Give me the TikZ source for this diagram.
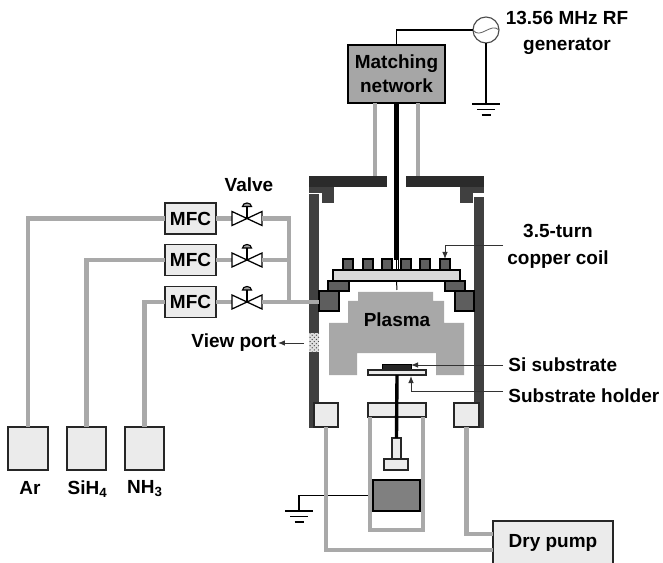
\documentclass[tikz,border=0pt]{standalone}
\usepackage{fontspec}
\setmainfont{Liberation Sans}
\usepackage{tikz}
\usetikzlibrary{patterns, arrows.meta}

\definecolor{pipegray}{HTML}{A9A9A9}
\definecolor{lidgray}{HTML}{2B2B2B}
\definecolor{wallgray}{HTML}{404040}
\definecolor{partgray}{HTML}{5E5E5E}
\definecolor{boxgray}{HTML}{EBEBEB}

\tikzset{
    every node/.style={font=\fontsize{13.5}{17}\selectfont\bfseries, inner sep=1pt, outer sep=0pt},
    size/.style 2 args={minimum width=#1*0.025cm, minimum height=#2*0.025cm},
    lightbox/.style={draw=black!85, line width=1pt, fill=boxgray, inner sep=0pt},
    darkpart/.style={draw=black, line width=0.9pt, fill=partgray, inner sep=0pt},
    pipe/.style={draw=pipegray, line width=3.4pt},
    wire/.style={draw=black, line width=1.4pt},
    callout/.style={draw=black!80, line width=0.7pt, -{Latex[length=5pt, width=4pt]}},
    ground/.pic={
        \draw[line width=1.2pt] (-14,0) -- (14,0);
        \draw[line width=1.2pt] (-9,5.5) -- (9,5.5);
        \draw[line width=1.5pt] (-4.5,11) -- (4.5,11);
    },
    valveicon/.pic={
        \draw[line width=0.9pt, fill=white] (-15,-7) -- (15,7) -- (15,-7) -- (-15,7) -- cycle;
        \draw[line width=0.9pt] (0,0) -- (0,-12);
        \filldraw[line width=0.8pt, fill=black!35] (-4.5,-12) arc[start angle=180, end angle=360, x radius=4.5, y radius=3.5] -- cycle;
    }
}

\begin{document}
\begin{tikzpicture}[x=0.025cm, y=-0.025cm]
        \useasboundingbox (0,0) rectangle (663,563);
        \clip (0,0) rectangle (663,563);

        \fill[white] (0,0) rectangle (663,563);

        % chamber
        \fill[lidgray] (309,176) rectangle (387,187);
        \fill[lidgray] (406,176) rectangle (484,187);
        \fill[wallgray] (309,187) rectangle (322,193);
        \fill[wallgray] (473,187) rectangle (484,193);
        \fill[wallgray] (322,187) rectangle (334,203);
        \fill[wallgray] (460,187) rectangle (473,203);
        \fill[wallgray] (309,194) rectangle (319,428);
        \fill[wallgray] (474,197) rectangle (484,428);
        \fill[black!12] (309,333) rectangle (319,352);
        \fill[pattern=crosshatch dots, pattern color=black!70] (309,333) rectangle (319,352);

        \fill[black!34] (358,292) -- (433,292) -- (433,301) -- (444,301) -- (444,323) -- (464,323)
            -- (464,375) -- (436,375) -- (436,353) -- (357,353) -- (357,375) -- (329,375)
            -- (329,323) -- (348,323) -- (348,301) -- (358,301) -- cycle;
        \node (plasma) at (397,320) {Plasma};

        % coil and window
        \node[draw=black, line width=0.9pt, fill=black!15, size={127}{11}, inner sep=0pt] (window) at (396.5,275.5) {};
        \foreach \i/\x in {1/348,2/368,3/387,4/406,5/425,6/445}
            \node[darkpart, size={10}{11}] (coil\i) at (\x,264.5) {};
        \node[darkpart, size={21}{10}] (ringl) at (338.5,286) {};
        \node[darkpart, size={20}{10}] (ringr) at (455,286) {};
        \node[darkpart, size={20}{20}] (blockl) at (329,301) {};
        \node[darkpart, size={19}{20}] (blockr) at (464.5,301) {};
        \coordinate (tap) at (397,290);
        \draw[line width=0.7pt] (window.south) -- (tap);

        % matching network and generator
        \node[draw=black, line width=1pt, fill=black!35, size={97}{58}, align=center] (match) at (396.5,74) {Matching\\network};
        \node[circle, draw=black!70, line width=0.8pt, fill=white, minimum size=26*0.025cm, inner sep=0pt] (gen) at (486,30) {};
        \node (genlabel) at (567,33) [align=center] {13.56 MHz RF\\[2pt]generator};
        \coordinate (gnd1) at (486,104);
        \coordinate (pipel) at (375,176);
        \coordinate (piper) at (418,176);
        \coordinate (rodend) at (396.5,260);
        \coordinate (feedl) at (396,270);
        \coordinate (feedr) at (398.5,270);
        \draw[wire] (match.north) |- (gen.west);
        \draw[wire] (gen.south) -- (gnd1);
        \draw[black!60, line width=0.6pt] (gen.west) .. controls (480,40) and (491,22) .. (gen.east);
        \pic at (gnd1) {ground};
        \draw[pipe] (match.south -| pipel) -- (pipel);
        \draw[pipe] (match.south -| piper) -- (piper);
        \draw[draw=black, line width=3.6pt] (match.south) -- (rodend);
        \draw[line width=0.5pt] (rodend -| feedl) -- (feedl);
        \draw[line width=0.5pt] (rodend -| feedr) -- (feedr);

        % gas lines
        \node[lightbox, size={51}{31}] (mfc1) at (190.5,218.5) {MFC};
        \node[lightbox, size={51}{31}] (mfc2) at (190.5,260) {MFC};
        \node[lightbox, size={51}{31}] (mfc3) at (190.5,302) {MFC};
        \node[size={30}{14}] (valve1) at (247,218.5) {};
        \node[size={30}{14}] (valve2) at (247,260) {};
        \node[size={30}{14}] (valve3) at (247,302) {};
        \node (valvelabel) at (249,185) {Valve};
        \node[lightbox, size={40}{43}] (ar) at (28,448.5) {};
        \node[lightbox, size={39}{43}] (sih) at (86.5,448.5) {};
        \node[lightbox, size={39}{43}] (nh) at (144.5,448.5) {};
        \node (arlabel) at (30,488) {Ar};
        \node (sihlabel) at (87.5,489) {SiH\textsubscript{4}};
        \node (nhlabel) at (145,489) {NH\textsubscript{3}};
        \coordinate (junc2) at (289,260);
        \coordinate (junc3) at (289,302);
        \coordinate (portin) at (319,302);

        \draw[pipe] (mfc1.west) -| (ar.north);
        \draw[pipe] (mfc2.west) -| (sih.north);
        \draw[pipe] (mfc3.west) -| (nh.north);
        \foreach \i in {1,2,3} {
            \draw[pipe] (mfc\i.east) -- (valve\i.west);
            \pic at (valve\i) {valveicon};
        }
        \draw[pipe] (valve1.east) -| (junc3);
        \draw[pipe] (valve2.east) -- (junc2);
        \draw[pipe] (valve3.east) -- (portin);

        % substrate stage
        \node[draw=black, line width=0.6pt, fill=black!85, size={29}{5}, inner sep=0pt] (wafer) at (396.5,366.5) {};
        \node[lightbox, size={58}{5}] (holder) at (397,372.5) {};
        \node[lightbox, size={58}{14}] (flange) at (397,410) {};
        \node[lightbox, size={9}{21}] (post) at (396.5,448.5) {};
        \node[lightbox, size={24}{11}] (foot) at (396,464.5) {};
        \node[draw=black, line width=1pt, fill=black!50, size={47}{31}, inner sep=0pt] (magnet) at (396.5,495.5) {};
        \draw[draw=black, line width=2.4pt] (holder.south) -- (post.north);

        % pump lines
        \node[lightbox, size={24}{24}] (clampl) at (326,415) {};
        \node[lightbox, size={25}{24}] (clampr) at (466.5,415) {};
        \node[lightbox, size={120}{44}] (pump) at (553,543) {Dry pump};
        \coordinate (pumpin1) at (493,534);
        \coordinate (pumpin2) at (493,550);
        \coordinate (bellowl) at (370,417);
        \coordinate (bellowr) at (423,417);
        \coordinate (bellowdl) at (370,530);
        \coordinate (bellowdr) at (423,530);
        \coordinate (gnd2) at (299,511);

        \draw[wire] (magnet.west) -- (gnd2 |- magnet.west) -- (gnd2);
        \pic at (gnd2) {ground};
        \draw[pipe] (bellowl) -- (bellowdl) -- (bellowdr) -- (bellowr);
        \draw[pipe] (clampl.south) |- (pumpin2);
        \draw[pipe] (clampr.south) |- (pumpin1);

        % labels
        \node (coillabel) at (558,246) [align=center] {3.5-turn\\[2pt]copper coil};
        \node[anchor=west] (sisub) at (507,365) {Si substrate};
        \node[anchor=west] (holdlabel) at (507,396) {Substrate holder};
        \node (viewlabel) at (234,343) {View port};
        \coordinate (coiltail) at (503,245);
        \coordinate (holdtail) at (503,391);
        \coordinate (holdtip) at (411,376);
        \coordinate (sitail) at (503,365);
        \coordinate (porttail) at (304,343);
        \draw[callout] (coiltail) -| (coil6.north);
        \draw[callout] (sitail) -- (sitail -| wafer.east);
        \draw[callout] (holdtail) -| (holdtip);
        \draw[callout] (porttail) -- (porttail -| viewlabel.east);
    \end{tikzpicture}
\end{document}
